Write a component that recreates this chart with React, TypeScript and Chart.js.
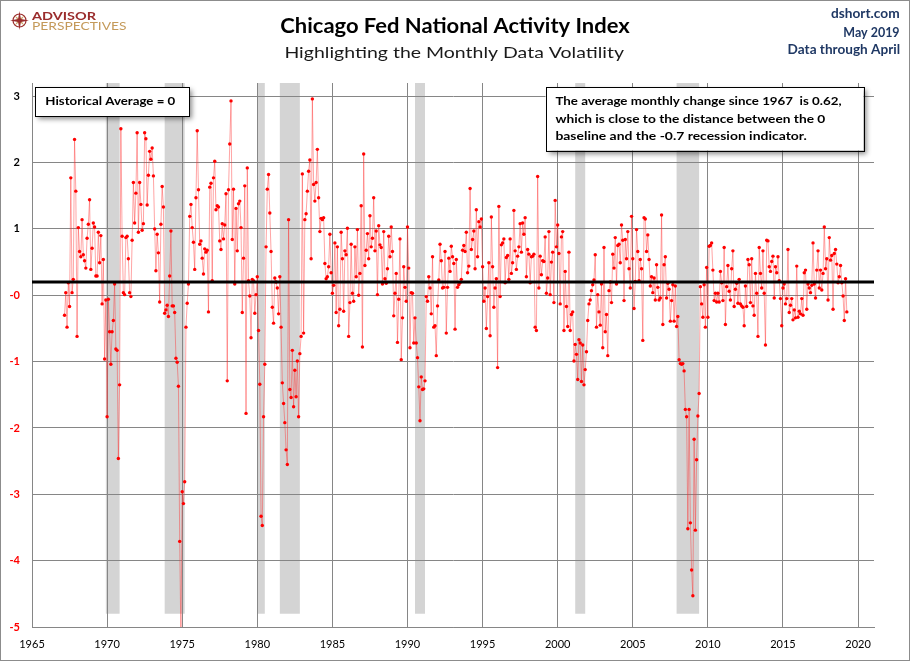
import React, { useEffect, useRef } from "react";
import { Chart, registerables } from "chart.js";

Chart.register(...registerables);

// ---------- data (Chicago Fed National Activity Index, monthly, Mar 1967 - Apr 2019) ----------
const FIRST_YEAR = 1967;
const FIRST_MONTH = 3;

const values1967to1969 = [
  -0.30, 0.04, -0.48, 0.19, -0.17, 1.77, 0.04, 0.24, 2.35, 1.57,
  -0.62, 1.02, 0.66, 0.58, 1.14, 0.61, 0.52, 0.41, 0.86, 1.07, 1.44, 0.39,
  0.71, 1.09, 1.03, 0.29, 0.29, 0.95, 0.49, 0.90, -0.13, 0.54, -0.96, -0.07,
];
const values1970s = [
  -1.83, -0.06, -0.55, -1.04, -0.55, -0.38, 0.17, -0.81, -0.83, -2.46, -1.35, 2.51,
  0.89, 0.04, 0.01, 0.87, 0.89, 0.55, 0.04, -0.02, 0.83, 1.70, 1.09, 1.54,
  2.45, 0.95, 1.70, 1.37, 0.98, 1.08, 2.45, 2.36, 1.36, 1.81, 2.17, 2.05,
  2.22, 1.80, 1.00, 0.37, 0.92, 0.64, -0.10, 1.07, 1.64, 1.33, -0.27, -0.22,
  -0.15, -0.32, 0.29, 0.97, -0.16, -0.16, -0.26, -0.95, -1.01, -1.37, -3.71, -5.20,
  -2.96, -3.14, -2.81, -0.48, -0.12, 0.17, 1.19, 1.37, 1.02, 0.80, 0.39, 1.47,
  2.48, 1.59, 0.77, 0.82, 0.56, 0.32, 0.70, 0.65, 0.68, -0.25, 1.63, 1.69,
  0.22, 1.77, 2.02, 1.29, 1.35, 1.33, 0.82, 0.69, 1.08, 0.85, 1.06, 1.53,
  -1.29, 1.59, 2.28, 2.93, 0.84, 1.60, 0.17, 1.31, 0.67, 1.38, 1.42, 1.02,
  -0.26, 0.56, 1.65, -1.78, 1.92, 0.22, -0.01, -0.64, 0.24, 0.22, -0.27, 0.01,
];
const values1980s = [
  0.28, -0.53, -1.34, -3.33, -3.47, -1.83, -1.04, 0.73, 1.60, 1.82, 1.24, 0.66,
  -0.18, -0.42, 0.26, 0.20, 0.11, -0.28, 0.28, -0.48, -1.32, -1.63, -1.92, -2.33,
  -2.55, 1.14, -1.42, -1.54, -0.83, -1.68, -1.13, -1.53, -0.99, -1.83, -0.88, -0.62,
  1.83, -0.57, 1.14, 1.23, 1.57, 1.87, 2.04, 0.55, 2.96, 1.67, 1.42, 1.70,
  2.20, 1.47, 0.96, 1.16, 1.14, 1.17, 0.48, 0.25, 0.28, 0.43, 0.92, 0.34,
  0.03, 0.15, 0.79, -0.26, 0.73, -0.46, -0.21, 0.95, 0.55, -0.24, 0.67, 0.61,
  1.01, -0.62, -0.11, 0.77, 0.03, -0.09, 0.73, 0.28, 0.99, 0.00, 0.33, 1.35,
  -0.78, 2.13, 0.45, 0.68, 0.93, 0.55, 1.20, 0.73, 0.86, 1.47, 0.67, 0.97,
  0.01, 1.05, 0.76, 0.72, 0.17, 0.96, 0.25, 0.18, 0.40, 0.89, 0.58, 1.03,
  0.66, -0.31, 0.03, 0.33, -0.71, -0.06, 0.85, -0.97, -0.34, 0.43, 0.12, -0.09,
];
const values1990s = [
  1.03, 0.41, -0.79, 0.04, 0.03, -0.72, -0.34, -0.72, -0.94, -1.38, -1.89, -1.23,
  -1.42, -1.41, -1.29, -0.02, -0.09, 0.28, 0.11, -0.28, 0.58, -0.48, -0.46, -0.91,
  -0.16, 0.23, 0.77, 0.52, 0.11, 0.12, 0.66, -0.57, 0.12, 0.56, 0.36, 0.74,
  0.58, 0.48, -0.51, 0.54, 0.12, 0.16, 0.19, 0.24, 0.68, 0.75, 0.66, 0.95,
  0.34, 0.44, 1.61, 0.69, 0.84, 0.97, 0.40, 1.29, 0.58, 1.11, 1.03, 1.15,
  0.43, -0.09, 0.11, -0.50, -0.02, 0.49, -0.61, 1.18, 0.43, -0.18, 0.11, 0.25,
  -1.09, 1.34, -0.02, 0.76, 0.79, 0.85, 0.19, 0.57, 0.60, 0.24, 0.85, 0.33,
  0.49, 1.28, 0.67, 0.39, 0.59, 0.73, 1.08, 0.65, 1.09, 0.92, 1.17, 0.28,
  0.69, 0.62, 0.19, 0.58, 0.59, 0.62, -0.48, -0.53, 1.79, 0.11, 0.59, 0.31,
  0.52, 0.51, 0.88, 0.03, 0.26, 0.96, 0.01, 0.50, 0.65, -0.11, 1.43, 0.73,
];
const values2000s = [
  1.06, 0.63, -0.13, 0.88, 0.96, -0.53, 0.36, -0.17, -0.47, 0.65, -0.53, -0.29,
  -0.25, -0.99, -0.74, -0.89, -1.27, -0.67, -0.72, -1.30, -0.75, -1.35, -1.12, -0.85,
  -0.38, -0.13, -0.07, 0.07, 0.16, 0.23, 0.61, -0.48, 0.01, -0.25, -0.45, 0.17,
  -0.79, 0.72, -0.55, -0.29, -0.91, 0.07, 0.20, -0.11, 0.62, 0.41, 0.87, 0.17,
  0.75, 0.77, 0.49, 1.06, 0.83, -0.08, 0.84, 0.55, 0.96, 0.40, 0.11, 1.19,
  0.55, -0.20, 0.21, 0.99, 0.66, 0.22, 0.54, 0.40, -0.68, 1.17, 1.15, 0.66,
  0.91, 0.54, 0.14, 0.28, 0.04, 0.26, -0.07, 0.46, 0.12, -0.07, -0.04, 1.21,
  -0.44, 0.46, 0.58, -0.04, 0.18, 0.09, -0.39, -0.08, 0.16, -0.39, 0.14, -0.47,
  -0.32, -0.97, -1.03, -1.04, -1.03, -1.14, -1.72, -1.83, -3.52, -1.72, -3.43, -4.14,
  -4.53, -2.17, -3.54, -2.48, -1.82, -1.48, 0.13, -0.13, -0.33, 0.16, -0.48, 0.42,
];
const values2010s = [
  -0.33, 0.74, 0.75, 0.79, 0.38, -0.08, 0.03, -0.10, 0.03, -0.10, 0.36, 0.19,
  -0.08, 0.72, -0.44, 0.13, 0.45, 0.06, -0.07, 0.40, 0.67, -0.17, 0.09, 0.18,
  -0.12, 0.24, -0.13, -0.16, -0.18, -0.46, 0.14, -0.17, 0.54, 0.46, -0.11, 0.55,
  -0.16, -0.30, 0.33, 0.03, -0.62, 0.72, 0.33, 0.11, 0.67, 0.03, -0.75, 0.83,
  0.82, 0.43, 0.36, 0.51, 0.59, -0.04, 0.43, 0.34, 0.58, 0.22, -0.05, -0.46,
  0.11, 0.17, -0.13, -0.05, 0.69, -0.26, -0.15, -0.05, -0.37, -0.22, -0.34, 0.44,
  -0.33, -0.24, -0.28, -0.05, -0.30, 0.34, 0.38, -0.21, 0.17, 0.11, 0.04, 0.15,
  0.79, 0.17, -0.04, 0.38, 0.67, 0.11, 0.38, 0.08, 0.33, 1.03, 0.40, 0.55,
  -0.07, 0.87, 0.53, 0.60, -0.21, 0.63, 0.69, 0.47, 0.19, 0.28, 0.45, 0.19,
  -0.01, -0.38, 0.25, -0.25,
];

const cfnaiValues = [
  ...values1967to1969,
  ...values1970s,
  ...values1980s,
  ...values1990s,
  ...values2000s,
  ...values2010s,
];

// recessions [year, month]
const recessionStarts: [number, number][] = [
  [1969, 12], [1973, 11], [1980, 1], [1981, 7], [1990, 7], [2001, 3], [2007, 12],
];
const recessionEnds: [number, number][] = [
  [1970, 11], [1975, 3], [1980, 7], [1982, 11], [1991, 3], [2001, 11], [2009, 6],
];
const BAND_TOP = 3.2;
const BAND_BOTTOM = -4.8;

const BASELINE = 0.2;

const xTickValues = [1965, 1970, 1975, 1980, 1985, 1990, 1995, 2000, 2005, 2010, 2015, 2020];
const yTickValues = [-5, -4, -3, -2, -1, 0, 1, 2, 3];
const X_MIN = 1965;
const X_MAX = 2021.06;
const Y_MIN = -5;
const Y_MAX = 3.2;

const TITLE = "Chicago Fed National Activity Index";
const SUBTITLE = "Highlighting the Monthly Data Volatility";
const headerRight = ["dshort.com", "May 2019", "Data through April"];
const leftNote = "Historical Average = 0";
const rightNote = [
  "The average monthly change since 1967  is 0.62,",
  "which is close to the distance between the 0",
  "baseline and the -0.7 recession indicator.",
];

const FONT = 'Lato, "Open Sans", "DejaVu Sans", sans-serif';

const toYear = (ym: [number, number]) => ym[0] + (ym[1] - 1) / 12;

function fitText(
  ctx: CanvasRenderingContext2D,
  text: string,
  left: number,
  baseline: number,
  width: number,
  font: string,
  color: string
) {
  ctx.save();
  ctx.font = font;
  ctx.textAlign = "left";
  ctx.textBaseline = "alphabetic";
  const w = ctx.measureText(text).width || 1;
  ctx.translate(left, baseline);
  ctx.scale(width / w, 1);
  ctx.fillStyle = color;
  ctx.fillText(text, 0, 0);
  ctx.restore();
}

function shadowBox(ctx: CanvasRenderingContext2D, x: number, y: number, w: number, h: number) {
  ctx.save();
  ctx.shadowColor = "rgba(0,0,0,0.45)";
  ctx.shadowBlur = 5;
  ctx.shadowOffsetX = 3;
  ctx.shadowOffsetY = 3;
  ctx.fillStyle = "#ffffff";
  ctx.fillRect(x, y, w, h);
  ctx.restore();
  ctx.save();
  ctx.strokeStyle = "#000000";
  ctx.lineWidth = 1;
  ctx.strokeRect(Math.round(x) + 0.5, Math.round(y) + 0.5, Math.round(w), Math.round(h));
  ctx.restore();
}

const decorPlugin = {
  id: "decor",
  beforeDraw(chart: any) {
    const { ctx } = chart;
    const xs = chart.scales.x;
    const ys = chart.scales.y;
    ctx.save();
    ctx.fillStyle = "#ffffff";
    ctx.fillRect(0, 0, chart.width, chart.height);
    ctx.fillStyle = "#d4d4d4";
    const top = ys.getPixelForValue(BAND_TOP);
    const bottom = ys.getPixelForValue(BAND_BOTTOM);
    recessionStarts.forEach((s, k) => {
      const x1 = xs.getPixelForValue(toYear(s));
      const x2 = xs.getPixelForValue(toYear(recessionEnds[k]));
      ctx.fillRect(x1, top, x2 - x1, bottom - top);
    });
    ctx.restore();
  },
  afterDraw(chart: any) {
    const { ctx } = chart;
    // outer frame
    ctx.save();
    ctx.strokeStyle = "#8c8c8c";
    ctx.lineWidth = 1;
    ctx.strokeRect(0.5, 0.5, chart.width - 1, chart.height - 1);
    ctx.restore();

    // logo
    ctx.save();
    const cx = 19.5, cy = 20.5;
    ctx.strokeStyle = "#9a2c2c";
    ctx.lineWidth = 1.2;
    ctx.beginPath();
    ctx.arc(cx, cy, 6.5, 0, Math.PI * 2);
    ctx.stroke();
    const star = (r1: number, r2: number, rot: number, color: string) => {
      ctx.beginPath();
      for (let k = 0; k < 8; k++) {
        const a = rot + (k * Math.PI) / 4;
        const r = k % 2 === 0 ? r1 : r2;
        const px = cx + r * Math.sin(a);
        const py = cy - r * Math.cos(a);
        if (k === 0) ctx.moveTo(px, py);
        else ctx.lineTo(px, py);
      }
      ctx.closePath();
      ctx.fillStyle = color;
      ctx.fill();
    };
    star(7, 1.6, Math.PI / 4, "#c9a063");
    star(9.5, 2, 0, "#9a2c2c");
    ctx.restore();
    fitText(ctx, "ADVISOR", 32, 20.3, 64, `bold 12px ${FONT}`, "#9a2c2c");
    fitText(ctx, "PERSPECTIVES", 32, 30, 94.5, `12px ${FONT}`, "#c49a5a");

    // titles
    fitText(ctx, TITLE, 280.3, 33, 349.4, `bold 21px ${FONT}`, "#000000");
    fitText(ctx, SUBTITLE, 284.4, 58.3, 339.6, `16px ${FONT}`, "#1a1a1a");

    // header right
    const navy = "#1f3864";
    fitText(ctx, headerRight[0], 831, 18.3, 68.6, `bold 12.5px ${FONT}`, navy);
    fitText(ctx, headerRight[1], 843.3, 36.5, 56.3, `bold 12.5px ${FONT}`, navy);
    fitText(ctx, headerRight[2], 787.6, 54, 112.5, `bold 12.5px ${FONT}`, navy);

    // note boxes
    shadowBox(ctx, 35, 87, 154, 29);
    fitText(ctx, leftNote, 45.3, 105, 130, `bold 12px ${FONT}`, "#000000");

    shadowBox(ctx, 545.5, 87, 318, 63.5);
    const widths = [286.2, 269.9, 251.3];
    const baselines = [105, 122.5, 140];
    rightNote.forEach((t, k) => {
      fitText(ctx, t, 555.4, baselines[k], widths[k], `bold 12px ${FONT}`, "#000000");
    });
  },
};

export default function App() {
  const canvasRef = useRef<HTMLCanvasElement | null>(null);

  useEffect(() => {
    const canvas = canvasRef.current;
    if (!canvas) return;
    const points = cfnaiValues.map((v, i) => ({
      x: FIRST_YEAR + (FIRST_MONTH - 1 + i) / 12,
      y: v,
    }));
    const baselinePoints = [
      { x: X_MIN, y: BASELINE },
      { x: X_MAX, y: BASELINE },
    ];
    const gridColor = "#868686";

    const chart = new Chart(canvas, {
      type: "line",
      data: {
        datasets: [
          {
            label: "Baseline",
            data: baselinePoints,
            borderColor: "#000000",
            borderWidth: 3,
            pointRadius: 0,
            order: 0,
          },
          {
            label: "CFNAI",
            data: points,
            borderColor: "rgba(255,40,40,0.42)",
            borderWidth: 1,
            pointRadius: 1.7,
            pointHoverRadius: 1.7,
            pointBackgroundColor: "#ff0000",
            pointBorderColor: "#ff0000",
            pointBorderWidth: 0,
            tension: 0,
            order: 1,
          },
        ],
      },
      options: {
        animation: false,
        responsive: false,
        maintainAspectRatio: false,
        events: [],
        layout: { padding: { left: 0, right: 36, top: 83, bottom: 0 } },
        plugins: {
          legend: { display: false },
          tooltip: { enabled: false },
          title: { display: false },
        },
        scales: {
          x: {
            type: "linear",
            min: X_MIN,
            max: X_MAX,
            afterBuildTicks: (s: any) => {
              s.ticks = xTickValues.map((v) => ({ value: v }));
            },
            afterFit: (s: any) => {
              s.height = 34;
            },
            ticks: {
              autoSkip: false,
              maxRotation: 0,
              padding: 11,
              color: "#000000",
              font: { family: FONT, size: 11 },
              callback: (v: any) => String(v),
            },
            grid: { color: gridColor, lineWidth: 1, drawTicks: false },
            border: { color: gridColor, width: 1 },
          },
          y: {
            type: "linear",
            min: Y_MIN,
            max: Y_MAX,
            afterBuildTicks: (s: any) => {
              s.ticks = yTickValues.map((v) => ({ value: v }));
            },
            afterFit: (s: any) => {
              s.width = 32;
            },
            ticks: {
              padding: 12,
              color: (c: any) => (c.tick && c.tick.value <= 0 ? "#ff0000" : "#000000"),
              font: { family: FONT, size: 11, weight: "bold" },
              callback: (v: any) => (v === 0 ? "-0" : String(v)),
            },
            grid: { color: gridColor, lineWidth: 1, drawTicks: false },
            border: { color: gridColor, width: 1 },
          },
        },
      },
      plugins: [decorPlugin],
    } as any);

    return () => {
      chart.destroy();
    };
  }, []);

  return (
    <div style={{ position: "absolute", left: 0, top: 0, width: 910, height: 661, background: "#ffffff" }}>
      <canvas ref={canvasRef} width={910} height={661} style={{ display: "block", width: 910, height: 661 }} />
    </div>
  );
}
